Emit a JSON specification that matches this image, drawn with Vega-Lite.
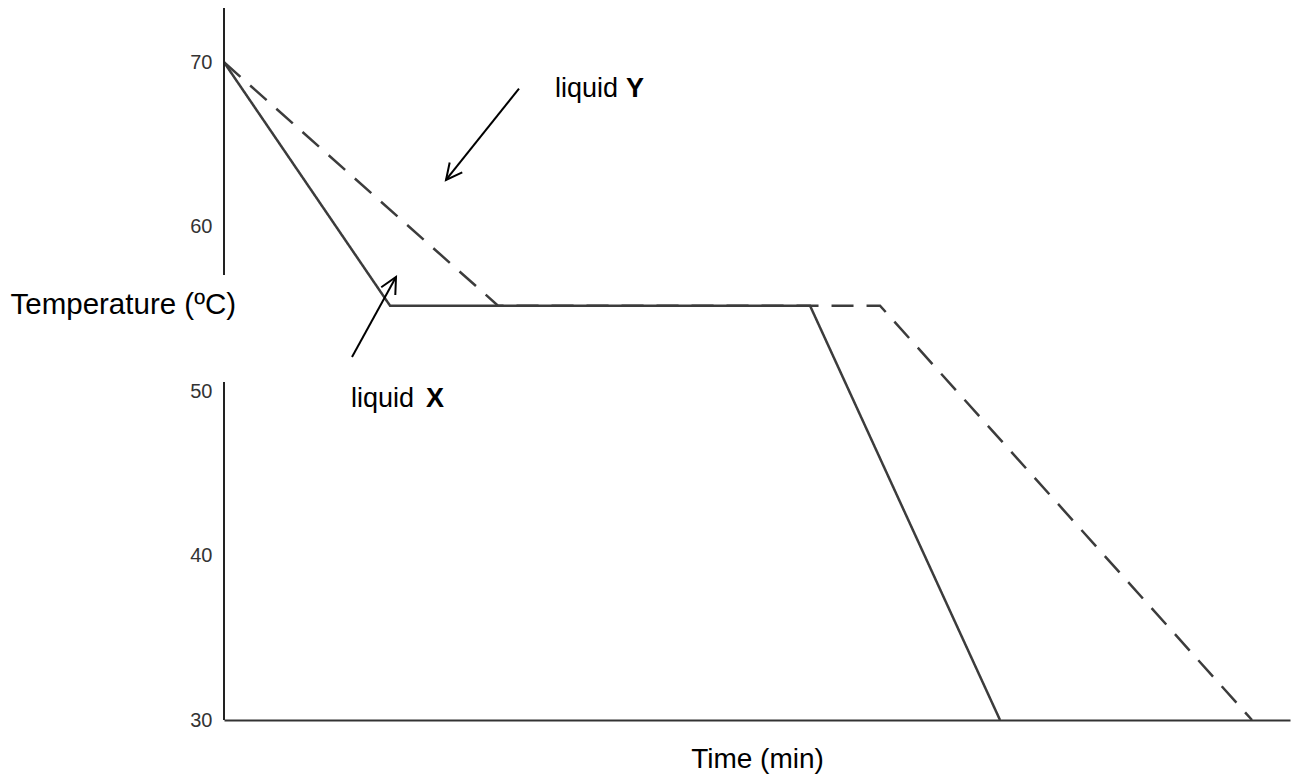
{
  "$schema": "https://vega.github.io/schema/vega-lite/v6.json",
  "width": 1066,
  "height": 712,
  "autosize": "none",
  "padding": {"left": 224, "top": 8, "right": 4, "bottom": 56},
  "background": "white",
  "config": {"view": {"stroke": null}, "font": "Liberation Sans"},
  "datasets": {
    "curves": [
      {"liquid": "X", "time": 0, "temp": 70},
      {"liquid": "X", "time": 166, "temp": 55.2},
      {"liquid": "X", "time": 586, "temp": 55.2},
      {"liquid": "X", "time": 776, "temp": 30},
      {"liquid": "Y", "time": 0, "temp": 70},
      {"liquid": "Y", "time": 274, "temp": 55.2},
      {"liquid": "Y", "time": 656, "temp": 55.2},
      {"liquid": "Y", "time": 1028, "temp": 30}
    ],
    "yaxis": [
      {"time": 0, "from": 73.3, "to": 57.06},
      {"time": 0, "from": 50.56, "to": 30}
    ],
    "arrows": [
      {"liquid": "Y", "t1": 295, "v1": 68.4, "t2": 222, "v2": 62.84},
      {"liquid": "X", "t1": 128, "v1": 52.08, "t2": 172, "v2": 56.94}
    ],
    "words": [
      {"liquid": "Y", "time": 331, "temp": 67.89, "text": "liquid"},
      {"liquid": "X", "time": 127, "temp": 49.04, "text": "liquid"}
    ],
    "letters": [
      {"liquid": "Y", "time": 402, "temp": 67.89, "text": "Y"},
      {"liquid": "X", "time": 202, "temp": 49.04, "text": "X"}
    ]
  },
  "layer": [
    {
      "data": {"name": "curves"},
      "mark": {"type": "line", "color": "#3c3c3c", "strokeWidth": 2.5},
      "encoding": {
        "x": {
          "field": "time", "type": "quantitative",
          "scale": {"domain": [0, 1066], "nice": false, "zero": false},
          "axis": {
            "domain": true, "domainColor": "#333333", "domainWidth": 2,
            "ticks": false, "labels": false, "grid": false,
            "title": "Time (min)", "titleFontSize": 28, "titleFontWeight": "normal",
            "titleColor": "#000000", "titleFont": "Liberation Sans",
            "titleBaseline": "alphabetic", "titleAlign": "center",
            "titleX": 533, "titleY": 47
          }
        },
        "y": {
          "field": "temp", "type": "quantitative",
          "scale": {"domain": [30, 73.3], "nice": false, "zero": false},
          "axis": {
            "domain": false, "ticks": false, "tickSize": 0, "grid": false,
            "values": [30, 40, 50, 60, 70],
            "labelFontSize": 20, "labelColor": "#333333", "labelPadding": 12,
            "labelFont": "Liberation Sans",
            "title": "Temperature (ºC)", "titleAngle": 0, "titleAlign": "left",
            "titleBaseline": "alphabetic", "titleX": -214, "titleY": 305,
            "titleFontSize": 29.5, "titleFontWeight": "normal", "titleColor": "#000000",
            "titleFont": "Liberation Sans"
          }
        },
        "detail": {"field": "liquid"},
        "strokeDash": {
          "field": "liquid", "type": "nominal",
          "scale": {"domain": ["X", "Y"], "range": [[1, 0], [22, 13]]},
          "legend": null
        }
      }
    },
    {
      "data": {"name": "yaxis"},
      "mark": {"type": "rule", "color": "#222222", "strokeWidth": 2},
      "encoding": {
        "x": {"field": "time", "type": "quantitative"},
        "y": {"field": "from", "type": "quantitative"},
        "y2": {"field": "to"}
      }
    },
    {
      "data": {"name": "arrows"},
      "mark": {"type": "rule", "color": "#000000", "strokeWidth": 2},
      "encoding": {
        "x": {"field": "t1", "type": "quantitative"},
        "y": {"field": "v1", "type": "quantitative"},
        "x2": {"field": "t2"},
        "y2": {"field": "v2"}
      }
    },
    {
      "data": {"name": "arrows"},
      "transform": [{"filter": "datum.liquid === 'Y'"}],
      "mark": {"type": "point", "shape": "M-0.5,1L0,0L0.5,1", "filled": false, "color": "#000000", "strokeWidth": 2, "opacity": 1, "size": 1030, "angle": 218.4},
      "encoding": {
        "x": {"field": "t2", "type": "quantitative"},
        "y": {"field": "v2", "type": "quantitative"}
      }
    },
    {
      "data": {"name": "arrows"},
      "transform": [{"filter": "datum.liquid === 'X'"}],
      "mark": {"type": "point", "shape": "M-0.5,1L0,0L0.5,1", "filled": false, "color": "#000000", "strokeWidth": 2, "opacity": 1, "size": 1030, "angle": 28.8},
      "encoding": {
        "x": {"field": "t2", "type": "quantitative"},
        "y": {"field": "v2", "type": "quantitative"}
      }
    },
    {
      "data": {"name": "words"},
      "mark": {"type": "text", "align": "left", "baseline": "alphabetic", "fontSize": 27, "font": "Liberation Sans", "color": "#000000"},
      "encoding": {
        "x": {"field": "time", "type": "quantitative"},
        "y": {"field": "temp", "type": "quantitative"},
        "text": {"field": "text"}
      }
    },
    {
      "data": {"name": "letters"},
      "mark": {"type": "text", "align": "left", "baseline": "alphabetic", "fontSize": 27, "fontWeight": "bold", "font": "Liberation Sans", "color": "#000000"},
      "encoding": {
        "x": {"field": "time", "type": "quantitative"},
        "y": {"field": "temp", "type": "quantitative"},
        "text": {"field": "text"}
      }
    }
  ]
}
